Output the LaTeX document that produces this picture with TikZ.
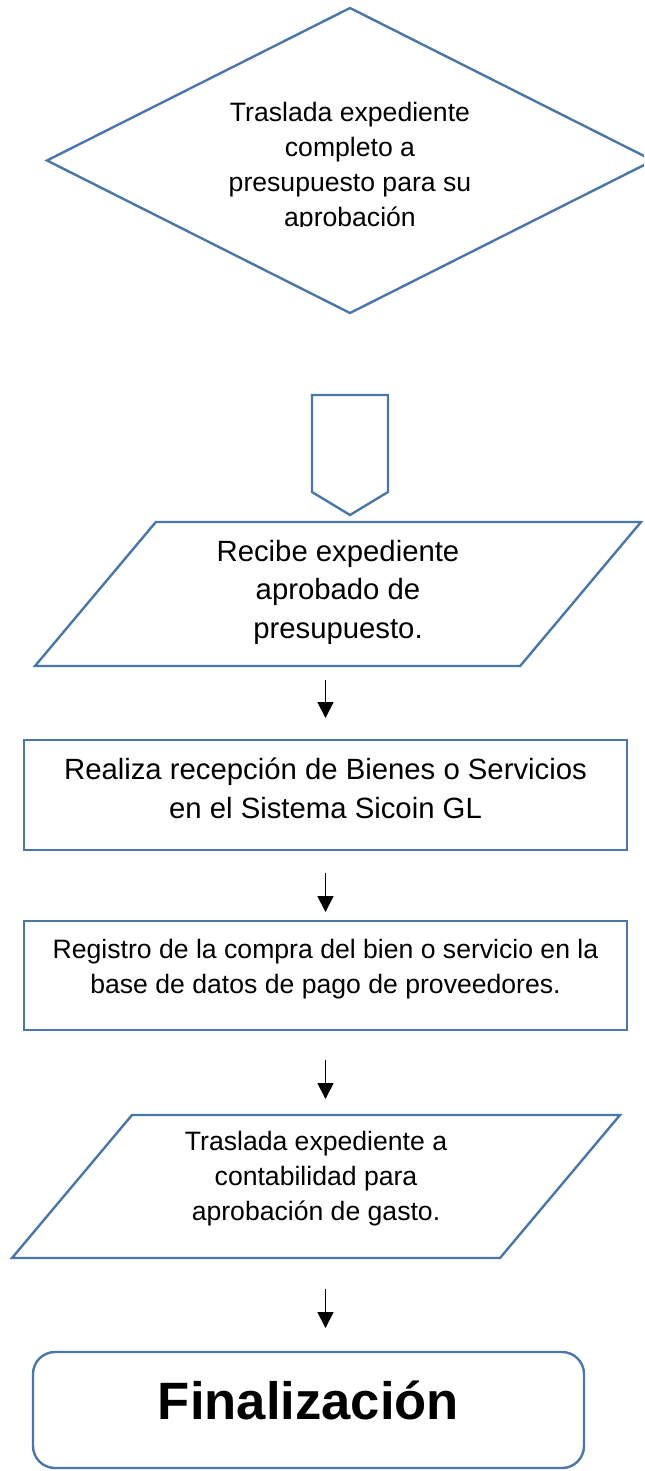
\documentclass[tikz,border=0pt]{standalone}
\usepackage{fontspec}
\setmainfont{Liberation Sans}
\usetikzlibrary{shapes.geometric,arrows.meta}
\definecolor{azul}{RGB}{74,118,168}
\begin{document}
\begin{tikzpicture}[x=0.5pt,y=-0.5pt,
		linea/.style={draw=azul, line width=1.2pt, outer sep=0pt},
		caja/.style={linea, rectangle, inner sep=0pt, align=center},
		paralelo/.style={linea, trapezium, trapezium left angle=50, trapezium right angle=130,
			trapezium stretches body=true, inner sep=0pt, align=center},
		flecha/.style={-{Triangle[width=8pt,length=8pt]}, line width=0.9pt},
		chica/.style={font=\fontsize{13.3}{17.5}\selectfont},
		grande/.style={font=\fontsize{14.65}{19.25}\selectfont}]
	
	\path[use as bounding box] (0,0) rectangle (644,1471);
	\clip (0,0) rectangle (644,1471);
	
	% rombo, el texto queda cortado abajo
	\node[linea, diamond, inner sep=0pt, minimum width=303pt, minimum height=152.5pt] (rombo) at (350,160.5) {};
	\begin{scope}
		\clip (0,0) rectangle (644,227);
		\node[chica, align=center, anchor=north, inner sep=0pt] (rombotxt) at (350,101.6)
			{Traslada expediente\\completo a\\presupuesto para su\\aprobación};
	\end{scope}
	
	% conector de pagina
	\draw[linea] (312,395) -- (388,395) -- (388,492) -- (350,515) -- (312,492) -- cycle;
	
	% pasos
	\node[paralelo, grande, minimum width=303pt, minimum height=72pt, text height=58pt, text depth=14pt]
		(recibe) at (338,594) {Recibe expediente\\aprobado de\\presupuesto.};
	\node[caja, grande, minimum width=301.5pt, minimum height=55pt, text height=39pt, text depth=16pt]
		(realiza) at (325.5,795) {Realiza recepción de Bienes o Servicios\\en el Sistema Sicoin GL};
	\node[caja, chica, minimum width=301.5pt, minimum height=54.5pt, text height=36pt, text depth=18.5pt]
		(registro) at (325.5,975.5) {Registro de la compra del bien o servicio en la\\base de datos de pago de proveedores.};
	\node[paralelo, chica, minimum width=304pt, minimum height=71.5pt, text height=52.5pt, text depth=19pt]
		(traslada) at (316,1186.5) {Traslada expediente a\\contabilidad para\\aprobación de gasto.};
	
	% fin
	\node[linea, rounded corners=11pt, inner sep=0pt, minimum width=275.5pt, minimum height=58pt,
		font=\bfseries\fontsize{26.3}{30}\selectfont, text height=33.5pt, text depth=24.5pt]
		(fin) at (308.5,1410) {Finalización};
	
	% flechas sueltas entre pasos
	\draw[flecha, shorten <=7pt, shorten >=11pt] (recibe.south -| realiza.north) -- (realiza.north);
	\draw[flecha, shorten <=11.5pt, shorten >=4.5pt] (realiza.south) -- (realiza.south |- registro.north);
	\draw[flecha, shorten <=15pt, shorten >=8pt] (registro.south) -- (registro.south |- traslada.north);
	\draw[flecha, shorten <=15.5pt, shorten >=12pt] (registro.south |- traslada.south) -- (registro.south |- fin.north);
	
\end{tikzpicture}
\end{document}
